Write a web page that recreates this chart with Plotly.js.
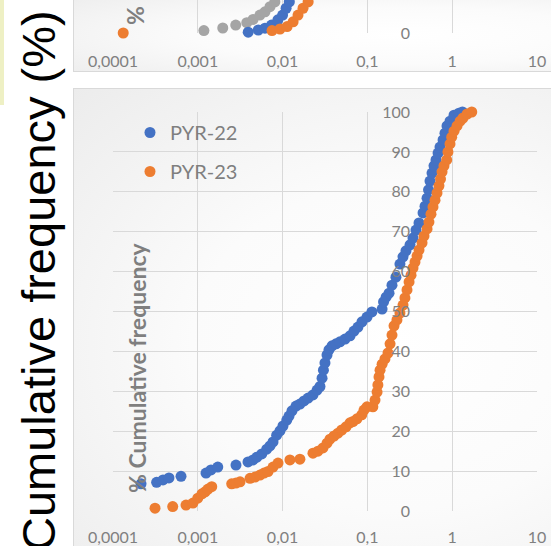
<!DOCTYPE html>
<html>
<head>
<meta charset="utf-8">
<script src="https://cdn.plot.ly/plotly-3.0.1.min.js"></script>
<style>
html,body{margin:0;padding:0;background:#ffffff;overflow:hidden;width:551px;height:546px;}
.area{position:absolute;box-sizing:border-box;border:1px solid #d9d9d9;
 background:radial-gradient(ellipse at 65% 55%, #ffffff 0%, #fbfbfb 45%, #ececec 100%);}
#a1{left:73px;top:-10px;width:500px;height:82px;}
#a2{left:73px;top:88px;width:500px;height:470px;}
#chart{position:absolute;left:0;top:0;width:551px;height:546px;}
</style>
</head>
<body>
<div class="area" id="a1"></div>
<div class="area" id="a2"></div>
<div id="chart"></div>
<script>
// ---- main chart data (grain size, % cumulative frequency) ----
const pyr22X = [0.000214,0.000327,0.000389,0.000457,0.000634,0.00125,0.00143,0.00172,0.00282,0.00391,0.00448,0.00499,0.00568,0.0065,0.0071,0.00771,0.00851,0.00931,0.0101,0.0112,0.0119,0.0129,0.0144,0.016,0.0179,0.02,0.0228,0.0255,0.0276,0.0292,0.0303,0.0316,0.0334,0.0352,0.0383,0.0427,0.0475,0.0545,0.0624,0.0695,0.0774,0.0863,0.0989,0.113,0.149,0.155,0.166,0.18,0.195,0.217,0.242,0.263,0.285,0.318,0.345,0.374,0.406,0.453,0.478,0.505,0.526,0.547,0.578,0.61,0.644,0.681,0.718,0.78,0.822,0.869,0.942,1.05,1.2,1.32];
const pyr22Y = [6.8,7.2,7.8,8.3,8.7,9.5,10.3,11.0,11.5,12.3,12.8,13.5,14.3,15.5,16.3,17.3,19.0,20.1,21.3,22.8,23.8,25.1,26.3,26.8,27.6,28.3,29.1,30.3,31.2,33.3,35.3,37.1,39.1,40.4,41.4,41.9,42.4,43.1,43.9,45.1,46.1,47.4,48.6,49.9,50.6,52.4,53.6,54.6,56.6,58.6,61.9,63.7,65.2,66.7,68.4,70.4,72.2,74.7,76.4,78.4,80.5,82.7,84.7,86.5,88.0,89.7,91.2,93.0,94.7,96.5,97.7,99.2,99.7,100];
const pyr23X = [0.000313,0.000506,0.000726,0.000877,0.001,0.00112,0.00122,0.00132,0.00146,0.00251,0.00282,0.00315,0.00413,0.00473,0.00541,0.00604,0.00673,0.00771,0.00883,0.0122,0.016,0.0228,0.0261,0.0299,0.0334,0.0362,0.0404,0.045,0.0498,0.056,0.0624,0.0676,0.0753,0.0857,0.0912,0.0989,0.116,0.123,0.13,0.133,0.137,0.141,0.149,0.161,0.175,0.185,0.195,0.206,0.223,0.242,0.263,0.277,0.293,0.31,0.327,0.345,0.364,0.385,0.406,0.441,0.465,0.505,0.532,0.562,0.594,0.627,0.662,0.698,0.728,0.759,0.8,0.861,0.891,0.942,0.986,1.05,1.14,1.24,1.34,1.5,1.7];
const pyr23Y = [0.7,1.1,1.5,2.0,3.2,4.3,4.8,5.5,6.1,6.8,7.0,7.3,8.2,8.5,9.0,9.5,9.9,11.0,12.0,12.8,13.0,14.5,15.0,15.8,17.0,18.0,18.8,19.5,20.3,21.1,22.1,22.4,23.1,24.1,25.3,26.1,26.1,27.8,29.8,31.6,33.6,35.3,36.8,38.1,39.6,41.9,44.1,46.4,47.9,49.6,51.6,53.4,55.4,57.4,59.1,60.9,62.4,63.9,65.4,67.2,68.9,70.7,72.4,74.4,76.2,77.9,79.7,81.5,83.2,85.0,86.5,88.0,90.0,92.0,93.7,95.2,96.5,97.7,98.5,99.5,100];

// ---- partially visible upper chart ----
const topGrayX = [0.00118,0.00197,0.0028,0.00378,0.00448,0.0054,0.0062,0.0071,0.0081];
const topGrayY = [0.6,1.25,2.0,2.6,3.4,4.5,5.3,6.6,7.8];
const topBlueX = [0.00393,0.00517,0.0062,0.0074,0.0088,0.01,0.011,0.012];
const topBlueY = [0.2,0.75,1.2,2.0,3.3,4.5,6.2,7.8];
const topOrangeX = [0.000132,0.0075,0.00931,0.0113,0.0133,0.0152,0.0174,0.02];
const topOrangeY = [0,0.6,1.0,1.6,2.8,4.5,6.2,7.8];

// ---- ticks ----
const xTickVals = [0.0001,0.001,0.01,0.1,1,10];
const xTickText = ['0,0001','0,001','0,01','0,1','1','10'];
const yTickVals = [0,10,20,30,40,50,60,70,80,90,100];

const BLUE='#4472C4', ORANGE='#ED7D31', GRAY='#A5A5A5';
const TICKFONT={family:'Lato, sans-serif',size:16,color:'#808080'};
const W=551,H=546;
const px=v=>v/W, py=v=>1-v/H;

function sc(x,y,color,name,xa,ya,show,grp){
  return {type:'scatter',mode:'markers',x:x,y:y,name:name,xaxis:xa,yaxis:ya,
    showlegend:show,legendgroup:grp,cliponaxis:false,
    marker:{color:color,size:11,line:{width:0}}};
}

const data=[
  sc(topGrayX,topGrayY,GRAY,'top-gray','x2','y2',false,'g3'),
  sc(topBlueX,topBlueY,BLUE,'top-blue','x2','y2',false,'g4'),
  sc(topOrangeX,topOrangeY,ORANGE,'top-orange','x2','y2',false,'g5'),
  sc(pyr22X,pyr22Y,BLUE,'PYR-22','x','y',true,'g1'),
  sc(pyr23X,pyr23Y,ORANGE,'PYR-23','x','y',true,'g2')
];

const xCommon={type:'log',range:[-4,1],tickvals:xTickVals,ticktext:xTickText,
  showgrid:true,gridcolor:'#d9d9d9',gridwidth:1,zeroline:false,showline:false,
  ticks:'outside',tickcolor:'rgba(0,0,0,0)',tickfont:TICKFONT,fixedrange:true};

const layout={
  width:W,height:H,margin:{l:0,r:0,t:0,b:0},
  paper_bgcolor:'rgba(0,0,0,0)',plot_bgcolor:'rgba(0,0,0,0)',
  xaxis:Object.assign({},xCommon,{domain:[px(113),px(537)],anchor:'y',ticklen:12}),
  yaxis:{range:[0,100],domain:[py(511),py(112)],tickvals:yTickVals,
    showgrid:true,gridcolor:'#d9d9d9',zeroline:false,showline:false,ticks:'',
    anchor:'free',position:px(410),tickfont:TICKFONT,fixedrange:true},
  xaxis2:Object.assign({},xCommon,{domain:[px(113),px(537)],anchor:'y2',ticklen:14}),
  yaxis2:{range:[0,8.27],domain:[py(33),1],tickvals:yTickVals,
    showgrid:true,gridcolor:'#d9d9d9',zeroline:false,showline:false,ticks:'',
    anchor:'free',position:px(410),tickfont:TICKFONT,fixedrange:true},
  showlegend:true,
  legend:{x:px(130),xanchor:'left',y:py(113),yanchor:'top',bgcolor:'rgba(0,0,0,0)',
    font:{family:'Lato, sans-serif',size:20,color:'#7f7f7f'},tracegroupgap:10},
  shapes:[
    {type:'rect',xref:'paper',yref:'paper',x0:0,x1:px(4),y0:py(105),y1:1,
     fillcolor:'#eef0c4',line:{width:0},layer:'below'}
  ],
  annotations:[
    {text:'Cumulative frequency (%)',textangle:-90,xref:'paper',yref:'paper',
     x:px(38),y:py(281),xanchor:'center',yanchor:'middle',showarrow:false,
     font:{family:'Liberation Sans, Arial, sans-serif',size:47,color:'#000000'}},
    {text:'<b>% Cumulative frequency</b>',textangle:-90,xref:'paper',yref:'paper',
     x:px(137),y:py(368),xanchor:'center',yanchor:'middle',showarrow:false,
     font:{family:'Lato, sans-serif',size:23,color:'#7f7f7f'}},
    {text:'<b>% Cumulative frequency</b>',textangle:-90,xref:'paper',yref:'paper',
     x:px(135),y:py(-100),xanchor:'center',yanchor:'middle',showarrow:false,
     font:{family:'Lato, sans-serif',size:23,color:'#7f7f7f'}}
  ]
};

Plotly.newPlot('chart',data,layout,{staticPlot:true,displayModeBar:false});
</script>
</body>
</html>
